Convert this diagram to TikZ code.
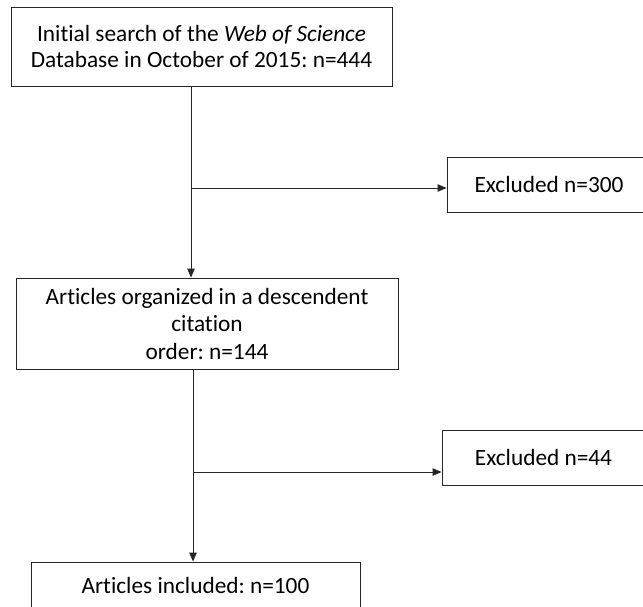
\documentclass[tikz,border=0pt]{standalone}
\usepackage{fontspec}
\setmainfont[Ligatures=NoCommon]{Carlito}
\frenchspacing
\usetikzlibrary{arrows.meta,positioning,calc}
\tikzset{
  box/.style={draw=black!85, rectangle, line width=0.9pt, align=center, inner sep=0pt, font=\fontsize{23.3}{26}\selectfont},
  arr/.style={-{Triangle[length=9pt,width=7.5pt]}, line width=0.9pt, draw=black!85},
}

\begin{document}
\begin{tikzpicture}[x=1pt, y=-1pt]
\useasboundingbox (0,0) rectangle (643,606);
\clip (0,0) rectangle (643,606);

\node[box, minimum width=381pt, minimum height=79pt] (search) at (201.5,46.5) {Initial search of the \textit{Web of Science}\\Database in October of 2015: n=444};
\node[box, minimum width=204pt, minimum height=55pt] (excl1) at (549,184.5) {Excluded n=300};
\node[box, minimum width=382pt, minimum height=91pt, font=\fontsize{23.3}{27.5}\selectfont] (sorted) at (207,323.5) {Articles organized in a descendent\\citation\\order: n=144};
\node[box, minimum width=203pt, minimum height=55pt] (excl2) at (543.5,457.5) {Excluded n=44};
\node[box, minimum width=329pt, minimum height=46pt] (incl) at (195.5,585) {Articles included: n=100};

% main flow
\draw[arr] ([xshift=-10.5pt]search.south) -- ([xshift=-16pt]sorted.north);
\draw[arr] ([xshift=-14pt]sorted.south) -- ([xshift=-2.5pt]incl.north);

% exclusions
\coordinate (fork1) at (191,188);
\coordinate (fork2) at (193,472);
\draw[arr] (fork1) -- (fork1 -| excl1.west);
\draw[arr] (fork2) -- (fork2 -| excl2.west);

\end{tikzpicture}
\end{document}
